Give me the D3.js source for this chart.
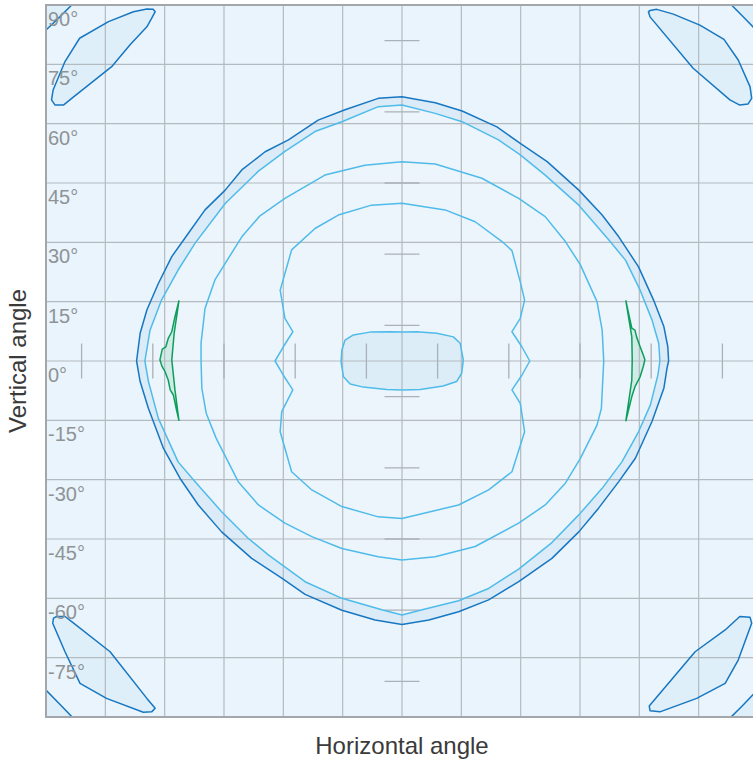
<!DOCTYPE html>
<html><head><meta charset="utf-8">
<script src="https://cdn.jsdelivr.net/npm/d3@7"></script>
<style>body{margin:0;background:#fff}svg{display:block}</style>
</head><body>
<svg id="c" width="753" height="762"></svg>
<script>
// ---- data (angles in degrees) ----
const gridAngles = [-90,-75,-60,-45,-30,-15,0,15,30,45,60,75,90];
const vLabelValues = [90,75,60,45,30,15,0,-15,-30,-45,-60,-75];
const vLabelTexts = ["90°","75°","60°","45°","30°","15°","0°","-15°","-30°","-45°","-60°","-75°"];
const markAngles = [-81,-63,-45,-27,-9,9,27,45,63,81];

const contourOuter = [[0,66.8],[8.4,65.3],[15.2,63.2],[24.0,59.2],[29.9,55.0],[36.7,50.4],[44.7,43.2],[50.6,36.9],[54.8,31.4],[59.8,23.8],[63.6,15.4],[66.2,8.7],[67.2,3.6],[67.4,0],[67.0,-1.8],[66.2,-6.9],[63.2,-15.3],[59.0,-24.6],[54.8,-30.5],[49.7,-37.2],[44.7,-43.2],[37.9,-49.9],[29.5,-55.8],[21.9,-60.4],[14.3,-63.4],[6.8,-65.5],[0,-66.6],[-6.8,-65.5],[-15.2,-63.0],[-24.5,-59.0],[-30.4,-54.9],[-38.0,-49.9],[-45.6,-43.2],[-51.5,-36.4],[-56.1,-29.7],[-60.3,-22.1],[-64.1,-12.0],[-66.2,-5.2],[-67.1,0],[-66.2,7.0],[-64.5,12.9],[-61.6,19.6],[-58.2,26.4],[-54.0,32.3],[-49.8,38.2],[-44.7,43.2],[-40.5,48.3],[-34.6,52.9],[-28.7,55.9],[-21.2,60.9],[-14.4,63.5],[-6.0,66.4]];
const contourBand = [[0,64.7],[8.4,62.6],[15.2,60.5],[24.4,55.9],[29.9,52.1],[36.2,47.0],[44.7,39.4],[52.3,30.6],[56.5,25.5],[60.2,17.9],[63.2,10.4],[64.9,4.5],[65.2,0],[64.7,-3.5],[62.8,-11.1],[59.8,-17.9],[55.6,-25.5],[50.6,-32.2],[44.7,-38.9],[37.9,-45.9],[29.5,-52.6],[21.9,-57.5],[14.3,-60.6],[5.1,-62.9],[0,-64.2],[-5.1,-62.9],[-15.2,-60.0],[-24.5,-55.8],[-33.8,-49.0],[-38.9,-44.8],[-45.6,-38.1],[-52.3,-30.5],[-56.6,-25.5],[-61.6,-14.5],[-64.1,-5.2],[-65.0,0],[-63.7,7.8],[-60.8,15.4],[-56.6,23.0],[-52.3,29.8],[-44.7,39.8],[-36.3,48.0],[-29.6,53.0],[-22.0,58.0],[-15.2,60.5],[-6.0,64.3]];
const contourMid = [[0,50.4],[8.4,49.8],[20.2,46.2],[29.5,41.1],[36.2,36.5],[41.3,30.2],[45.1,24.3],[49.3,15.0],[50.6,7.8],[51.0,0],[50.4,-12.0],[49.3,-16.2],[45.1,-24.6],[41.3,-30.9],[36.2,-36.4],[29.5,-41.0],[18.5,-46.9],[8.4,-49.5],[0,-50.3],[-6.0,-49.5],[-15.2,-47.4],[-22.8,-44.4],[-29.6,-41.0],[-36.3,-36.4],[-41.4,-30.5],[-47.0,-19.5],[-49.5,-13.2],[-50.6,-6.9],[-50.8,0],[-50.8,4.5],[-49.8,13.3],[-47.3,20.5],[-40.5,31.4],[-35.9,36.7],[-29.6,41.1],[-19.5,47.0],[-9.4,49.5]];
const contourInner = [[0,39.9],[10.9,38.2],[18.5,35.2],[25.3,30.2],[27.8,27.9],[29.9,20.0],[31.0,15.4],[29.9,10.8],[27.8,7.4],[30.3,3.6],[32.3,0],[30.3,-3.6],[27.8,-7.3],[29.9,-10.7],[31.0,-17.9],[27.8,-28.0],[21.9,-32.6],[14.3,-36.4],[0,-39.8],[-6.0,-39.4],[-15.2,-36.8],[-22.8,-32.6],[-27.9,-28.0],[-30.8,-17.9],[-30.4,-12.8],[-27.6,-7.3],[-30.0,-3.6],[-32.1,0],[-30.0,3.6],[-27.6,7.4],[-29.6,10.8],[-30.8,17.9],[-27.9,28.1],[-22.0,33.5],[-16.1,36.9],[-7.7,39.4]];
const contourCore = [[-14.4,5.3],[-12.3,6.6],[-8.1,7.3],[-3.0,7.4],[0.3,7.3],[3.7,7.4],[8.8,7.0],[13.0,6.1],[14.7,4.5],[15.5,0.3],[15.1,-3.1],[13.8,-5.2],[10.4,-6.3],[4.6,-7.2],[0.3,-7.3],[-3.9,-7.2],[-9.8,-6.6],[-13.1,-5.8],[-14.8,-4.0],[-15.4,-0.2],[-15.2,2.8]];
const greenLeft = [[-56.4,15.2],[-57.4,11.2],[-58.2,7.4],[-59.1,5.7],[-59.7,3.6],[-60.6,3.0],[-61.2,0.3],[-60.7,-1.3],[-59.9,-2.7],[-59.1,-4.8],[-58.6,-7.3],[-57.8,-8.6],[-57.0,-12.4],[-56.4,-15.0],[-57.4,-7.3],[-58.2,0.3],[-57.6,7.0]];
const greenRight = [[56.6,15.2],[58.1,8.3],[58.9,7.8],[59.3,6.1],[60.2,3.6],[61.0,1.5],[61.4,0.3],[61.0,-1.4],[60.2,-4.0],[58.9,-6.5],[58.1,-9.0],[56.6,-15.1],[58.1,-4.8],[58.2,0.3],[58.1,6.1]];
const cornerTL = [[-62.4,88.3],[-63.3,86.6],[-64.5,84.5],[-68.8,79.9],[-73.4,74.4],[-83.5,66.4],[-85.6,64.7],[-87.7,64.7],[-88.6,66.0],[-88.2,68.5],[-85.2,75.7],[-81.5,81.6],[-74.2,85.8],[-67.9,88.3],[-64.5,89.0],[-62.9,88.9]];
const cornerTR = [[62.3,88.3],[62.7,87.0],[73.6,74.0],[82.9,66.0],[85.4,64.7],[87.5,65.0],[88.4,66.4],[88.0,69.3],[85.0,76.1],[81.4,81.3],[75.3,84.9],[68.6,87.7],[64.4,88.9],[62.7,88.6]];
const cornerBL = [[-88.1,-65.0],[-87.3,-64.6],[-85.2,-64.6],[-83.5,-65.9],[-73.8,-73.5],[-64.5,-85.3],[-62.4,-87.8],[-63.3,-88.7],[-65.4,-88.8],[-74.7,-85.3],[-81.4,-81.5],[-85.2,-73.5],[-88.3,-66.3]];
const cornerBR = [[85.4,-64.6],[88.0,-64.8],[88.4,-66.3],[85.0,-75.6],[81.7,-81.5],[74.5,-85.3],[65.2,-88.7],[62.7,-88.4],[62.5,-87.2],[74.1,-73.5],[81.7,-68.0]];
const edgeTL = [[-92,81.5],[-90,83.7],[-86.5,87.0],[-83.5,90],[-81.5,92],[-92,92]];
const edgeTR = [[81.5,92],[83.3,90],[86.0,87.3],[88.7,84.5],[92,81],[92,92]];
const edgeBL = [[-92,-81.5],[-90,-83.2],[-86.5,-86.8],[-83.5,-89.9],[-81.5,-92],[-92,-92]];
const edgeBR = [[81.5,-92],[83.3,-89.9],[86.0,-87.2],[88.7,-84.4],[92,-81],[92,-92]];

// ---- layout ----
const svg = d3.select("#c");
const x = d3.scaleLinear().domain([-90,90]).range([46,758]);
const y = d3.scaleLinear().domain([-90,90]).range([717,5]);
const line = d3.line().x(d=>x(d[0])).y(d=>y(d[1]));
const closed = pts => line(pts) + "Z";

const DARK = "#1777c2", LIGHT = "#4fbbea", GREEN = "#0c9f5c";
const BANDFILL = "#dbecf8", INNERFILL = "#ecf5fb";

svg.append("defs").append("clipPath").attr("id","clip")
  .append("rect").attr("x",x(-90)).attr("y",y(90)).attr("width",x(90)-x(-90)).attr("height",y(-90)-y(90));

svg.append("rect").attr("x",x(-90)).attr("y",y(90)).attr("width",x(90)-x(-90)).attr("height",y(-90)-y(90))
  .attr("fill","#e9f4fc");

const g = svg.append("g").attr("clip-path","url(#clip)");

// fills
g.append("path").attr("d",closed(contourOuter)).attr("fill",BANDFILL);
g.append("path").attr("d",closed(contourBand)).attr("fill",INNERFILL);
g.append("path").attr("d",closed(contourCore)).attr("fill","#dcedf8");
[greenLeft,greenRight].forEach(p=>g.append("path").attr("d",closed(p)).attr("fill","#d3ebe8"));
[cornerTL,cornerTR,cornerBL,cornerBR,edgeTL,edgeTR,edgeBL,edgeBR].forEach(p=>g.append("path").attr("d",closed(p)).attr("fill","#dfeff9"));

// grid
g.selectAll("line.gv").data(gridAngles).join("line").attr("class","gv")
  .attr("x1",d=>x(d)).attr("x2",d=>x(d)).attr("y1",y(90)).attr("y2",y(-90))
  .attr("stroke","#b3bac0").attr("stroke-width",1.2);
g.selectAll("line.gh").data(gridAngles).join("line").attr("class","gh")
  .attr("y1",d=>y(d)).attr("y2",d=>y(d)).attr("x1",x(-90)).attr("x2",x(90))
  .attr("stroke","#b3bac0").attr("stroke-width",1.2);

// center marks
g.selectAll("line.mv").data(markAngles).join("line").attr("class","mv")
  .attr("x1",d=>x(d)).attr("x2",d=>x(d)).attr("y1",y(0)-17.5).attr("y2",y(0)+17.5)
  .attr("stroke","#aab1b7").attr("stroke-width",1.3);
g.selectAll("line.mh").data(markAngles).join("line").attr("class","mh")
  .attr("y1",d=>y(d)).attr("y2",d=>y(d)).attr("x1",x(0)-17.5).attr("x2",x(0)+17.5)
  .attr("stroke","#aab1b7").attr("stroke-width",1.3);

// strokes
const stroke = (p,c)=>g.append("path").attr("d",closed(p)).attr("fill","none").attr("stroke",c).attr("stroke-width",1.5).attr("stroke-linejoin","round");
stroke(contourOuter,DARK);
stroke(contourBand,LIGHT);
stroke(contourMid,LIGHT);
stroke(contourInner,LIGHT);
stroke(contourCore,LIGHT);
stroke(greenLeft,GREEN);
stroke(greenRight,GREEN);
[cornerTL,cornerTR,cornerBL,cornerBR].forEach(p=>stroke(p,DARK));
[edgeTL,edgeTR,edgeBL,edgeBR].forEach(p=>g.append("path").attr("d",line(p.slice(0,5))).attr("fill","none").attr("stroke",DARK).attr("stroke-width",1.5));

// border
svg.append("path").attr("d",`M${x(90)},${y(90)}H${x(-90)}V${y(-90)}H${x(90)}`)
  .attr("fill","none").attr("stroke","#a3a7ab").attr("stroke-width",2);

// y labels
svg.selectAll("text.yl").data(vLabelValues).join("text").attr("class","yl")
  .attr("x",x(-90)+2).attr("y",d=>y(d)+21)
  .attr("font-family","'Liberation Sans', Arial, sans-serif").attr("font-size",20)
  .attr("fill","#8e9396").text((d,i)=>vLabelTexts[i]);

// titles
svg.append("text").attr("x",x(0)).attr("y",754).attr("text-anchor","middle")
  .attr("font-family","'Liberation Sans', Arial, sans-serif").attr("font-size",24).attr("fill","#3a3a3a")
  .text("Horizontal angle");
svg.append("text").attr("transform",`translate(26,${y(0)}) rotate(-90)`).attr("text-anchor","middle")
  .attr("font-family","'Liberation Sans', Arial, sans-serif").attr("font-size",24).attr("fill","#3a3a3a")
  .text("Vertical angle");
</script>
</body></html>
